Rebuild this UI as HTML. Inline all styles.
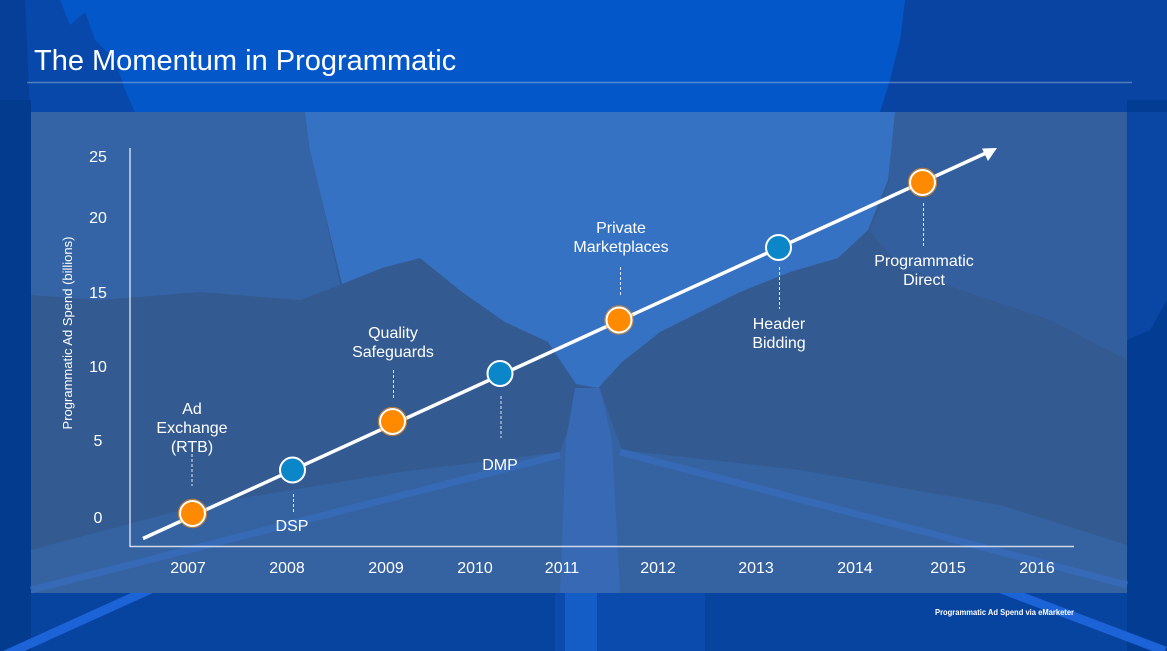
<!DOCTYPE html>
<html><head><meta charset="utf-8"><style>
html,body{margin:0;padding:0;background:#0457c9;}
svg{display:block;}
text{font-family:"Liberation Sans",Arial,sans-serif;fill:#fff;}
</style></head><body>
<svg width="1167" height="651" viewBox="0 0 1167 651" xmlns="http://www.w3.org/2000/svg">
<!-- background -->
<rect x="0" y="0" width="1167" height="651" fill="#0457c9"/>
<!-- top-left trees -->
<path d="M0,0 L60,0 L70,25 L85,12 L95,40 L115,60 L125,90 L135,112 L0,112 Z" fill="#0848aa"/>
<path d="M0,0 L25,0 L30,112 L0,112 Z" fill="#053f98"/>
<!-- top-right trees -->
<path d="M905,0 L1167,0 L1167,112 L880,112 L890,80 L900,40 Z" fill="#0a44a3"/>
<!-- bottom strip -->
<rect x="0" y="593" width="1167" height="58" fill="#06449f"/>
<rect x="555" y="593" width="150" height="58" fill="#0b4bad"/>
<rect x="565" y="593" width="32" height="58" fill="#145cc6"/>
<!-- side strips -->
<rect x="0" y="100" width="31" height="551" fill="#033c8f"/>
<rect x="1127" y="100" width="40" height="551" fill="#033d93"/>
<path d="M1127,112 L1167,112 L1167,300 L1150,330 L1127,340 Z" fill="#0a46a4"/>
<!-- bright road lines outside panel -->
<line x1="5" y1="655" x2="215" y2="560" stroke="#1c63d8" stroke-width="9"/>
<line x1="925" y1="560" x2="1165" y2="651" stroke="#1c63d8" stroke-width="9"/>

<!-- panel -->
<rect x="31" y="112" width="1096" height="481" fill="#335b92"/>
<!-- left mottled trees -->
<path d="M31,112 L310,112 L322,200 L340,285 L300,300 L200,292 L100,300 L31,295 Z" fill="#3564a6"/>
<!-- right mottled trees -->
<path d="M880,112 L1127,112 L1127,360 L1050,320 L960,290 L900,265 L870,232 L890,180 Z" fill="#345f9e"/>
<!-- sky -->
<path d="M305,112 L895,112 L888,180 L868,230 L838,258 L790,272 L740,292 L700,312 L660,332 L622,362 L598,388 L576,384 L548,342 L505,322 L462,292 L420,258 L382,268 L342,284 L322,200 L310,150 Z" fill="#3672c4"/>
<!-- ground -->
<path d="M31,550 L200,505 L400,472 L560,452 L582,390 L600,390 L622,450 L800,470 L1000,505 L1127,545 L1127,593 L31,593 Z" fill="#3562a1"/>
<!-- distant road -->
<path d="M575,388 L600,388 L612,440 L620,593 L560,593 L566,440 Z" fill="#3869b4"/>
<!-- road lines inside panel -->
<line x1="31" y1="590" x2="560" y2="455" stroke="#3669b6" stroke-width="7"/>
<line x1="620" y1="452" x2="1127" y2="585" stroke="#3669b6" stroke-width="7"/>

<!-- title -->
<text x="34" y="70" font-size="29">The Momentum in Programmatic</text>
<line x1="27" y1="82.5" x2="1132" y2="82.5" stroke="#ffffff" stroke-opacity="0.3" stroke-width="1.5"/>

<!-- axes -->
<line x1="130" y1="148" x2="130" y2="547" stroke="#ffffff" stroke-opacity="0.75" stroke-width="1.5"/>
<line x1="130" y1="546.5" x2="1074" y2="546.5" stroke="#ffffff" stroke-opacity="0.75" stroke-width="1.5"/>

<!-- y ticks -->
<g font-size="16" text-anchor="middle">
<text x="98" y="162">25</text>
<text x="98" y="223">20</text>
<text x="98" y="298">15</text>
<text x="98" y="372">10</text>
<text x="98" y="446">5</text>
<text x="98" y="523">0</text>
</g>
<text transform="translate(72,333) rotate(-90)" font-size="13" text-anchor="middle">Programmatic Ad Spend (billions)</text>

<!-- x ticks -->
<g font-size="16" text-anchor="middle">
<text x="188" y="573">2007</text>
<text x="287" y="573">2008</text>
<text x="386" y="573">2009</text>
<text x="475" y="573">2010</text>
<text x="562" y="573">2011</text>
<text x="658" y="573">2012</text>
<text x="756" y="573">2013</text>
<text x="855" y="573">2014</text>
<text x="948" y="573">2015</text>
<text x="1037" y="573">2016</text>
</g>

<!-- trend line -->
<line x1="143" y1="538.5" x2="986" y2="153" stroke="#ffffff" stroke-width="3.5" stroke-linecap="butt"/>
<polygon points="997,148 982,148.5 988,161" fill="#ffffff"/>

<!-- dashed connectors -->
<g stroke="#ffffff" stroke-opacity="0.85" stroke-width="1" stroke-dasharray="3,2">
<line x1="192" y1="454" x2="192" y2="486"/>
<line x1="293.5" y1="494" x2="293.5" y2="514"/>
<line x1="393.5" y1="370" x2="393.5" y2="399"/>
<line x1="501" y1="396" x2="501" y2="438"/>
<line x1="620.5" y1="267" x2="620.5" y2="297"/>
<line x1="779.5" y1="267" x2="779.5" y2="309"/>
<line x1="923.5" y1="203" x2="923.5" y2="247"/>
</g>

<!-- markers -->
<g stroke="#ffffff" stroke-width="2">
<circle cx="192.5" cy="513.5" r="12.5" fill="#ff8a00"/>
<circle cx="292.5" cy="470" r="12.5" fill="#0a86c9"/>
<circle cx="392.5" cy="421.5" r="12.5" fill="#ff8a00"/>
<circle cx="500" cy="373.5" r="12.5" fill="#0a86c9"/>
<circle cx="619" cy="320" r="12.5" fill="#ff8a00"/>
<circle cx="778.5" cy="247.5" r="12.5" fill="#0a86c9"/>
<circle cx="922.5" cy="182.5" r="12.5" fill="#ff8a00"/>
</g>
<g fill="none" stroke="#ff8a00" stroke-width="1" stroke-opacity="0.7">
<circle cx="192.5" cy="513.5" r="14.2"/>
<circle cx="392.5" cy="421.5" r="14.2"/>
<circle cx="619" cy="320" r="14.2"/>
<circle cx="922.5" cy="182.5" r="14.2"/>
</g>

<!-- labels -->
<g font-size="16" text-anchor="middle">
<text x="192" y="414">Ad</text>
<text x="192" y="433">Exchange</text>
<text x="192" y="452">(RTB)</text>
<text x="292" y="531">DSP</text>
<text x="393" y="338">Quality</text>
<text x="393" y="357">Safeguards</text>
<text x="500" y="470">DMP</text>
<text x="621" y="233">Private</text>
<text x="621" y="252">Marketplaces</text>
<text x="779" y="329">Header</text>
<text x="779" y="348">Bidding</text>
<text x="924" y="266">Programmatic</text>
<text x="924" y="285">Direct</text>
</g>

<!-- footer -->
<text x="935" y="615" font-size="8.5" font-weight="bold" textLength="139" lengthAdjust="spacingAndGlyphs">Programmatic Ad Spend via eMarketer</text>
</svg>
</body></html>
